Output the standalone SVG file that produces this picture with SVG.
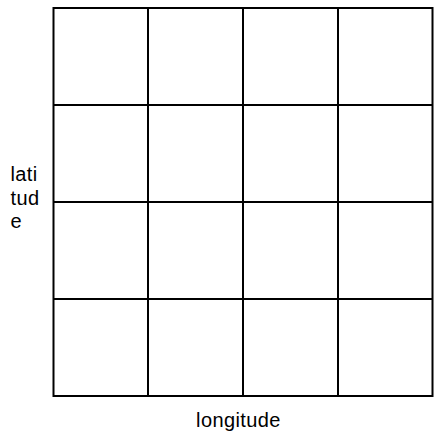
<svg xmlns="http://www.w3.org/2000/svg" width="435" height="433" viewBox="0 0 435 433">
<style>
.g{stroke:#000;stroke-width:2;fill:none}
.t{font-family:"Liberation Sans",Arial,sans-serif;font-size:20px;letter-spacing:0.4px;fill:#000}
</style>
<rect width="435" height="433" fill="#fff"/>
<g id="grid">
<rect class="g" x="53.5" y="8" width="379" height="388"/>
<path class="g" d="M148 8V396M243 8V396M338 8V396M53.5 105H432.5M53.5 202H432.5M53.5 299H432.5"/>
</g>
<g id="labels">
<text class="t" x="10.5" y="181">lati</text>
<text class="t" x="10.5" y="205">tud</text>
<text class="t" x="10.5" y="228">e</text>
<text class="t" x="238.5" y="427" text-anchor="middle">longitude</text>
</g>
</svg>
